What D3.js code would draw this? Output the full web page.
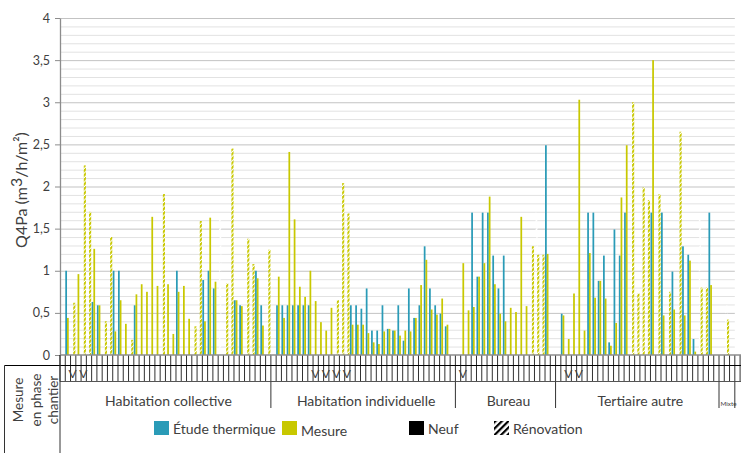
<!DOCTYPE html>
<html>
<head>
<meta charset="utf-8">
<script src="https://cdn.jsdelivr.net/npm/d3@7"></script>
<style>
    body { margin: 0; background: #fff; }
    svg { display: block; font-family: Lato, 'Open Sans', sans-serif; }
</style>
</head>
<body>
<svg id="chart" width="741" height="453"></svg>
<script>
// groupes de bâtiments (niveau 3 de l'axe)
const groups = ['Habitation collective', 'Habitation individuelle', 'Bureau', 'Tertiaire autre', 'Mixte'];
const groupSizes = [40, 35, 19, 31, 3];

// Q4Pa étude thermique, un bâtiment par catégorie
const etude = [
    null, 1.0, null, null, null, null, 0.63, 0.59, null, null,
    1.0, 1.0, null, null, 0.59, null, null, null, null, null,
    null, null, 1.0, null, null, null, null, 0.89, 1.0, 0.79,
    1.68, null, null, 0.65, 0.59, null, null, 1.0, 0.59, null,
    null, 0.59, 0.59, 0.59, 0.59, 0.59, 0.59, 0.59, null, null,
    null, null, null, null, null, 0.59, 0.59, 0.55, 0.79, 0.29,
    0.29, 0.59, 0.31, 0.29, 0.59, 0.17, 0.79, 0.44, 0.59, 1.29,
    0.79, 0.59, 0.49, 0.34, null,
    null, null, null, 1.69, 0.93, 1.69, 1.69, 1.18, 0.79, 1.18,
    null, null, null, null, null, 1.69, null, 2.49, null,
    null, 0.49, null, null, null, null, 1.69, 1.69, 0.88, 1.18,
    0.15, 1.49, 1.18, 1.69, null, null, null, null, 1.69, null,
    1.69, null, 0.99, null, 1.29, 1.19, 0.19, 1.68, null, 1.69,
    null,
    null, 0.59, null
];

// Q4Pa mesuré
const mesure = [
    null, 0.44, 0.62, 0.96, 2.25, 1.70, 1.26, 0.59, 0.40, 1.40,
    0.28, 0.65, 0.37, 0.18, 0.72, 0.84, 0.75, 1.64, 0.82, 1.91,
    0.84, 0.25, 0.75, 0.82, 0.43, 0.34, 1.59, 0.40, 1.63, 0.87,
    null, 0.85, 2.45, 0.65, 0.58, 1.38, 1.08, 0.91, 0.35, 1.25,
    null, 0.93, 0.44, 2.41, 1.61, 0.81, 0.69, 1.0, 0.64, 0.39,
    0.29, 0.56, 0.65, 2.04, 1.68, 0.36, 0.36, 0.36, 0.26, 0.15,
    0.13, 0.28, 0.31, 0.29, 0.23, 0.29, 0.28, 0.44, 0.83, 1.13,
    0.54, 0.48, 0.67, 0.36, null,
    null, 1.09, 0.53, 0.57, 0.93, 1.09, 1.88, 0.84, 0.49, 0.40,
    0.56, 0.51, 1.64, 0.58, 1.29, 1.19, 1.19, 1.20, null,
    null, 0.47, 0.19, 0.73, 3.03, 0.29, 1.21, 0.68, 0.88, 0.67,
    0.11, 0.38, 1.87, 2.49, 3.0, 0.73, 1.99, 1.84, 3.5, 1.91,
    0.47, 0.75, 0.54, 2.65, 0.47, 1.12, 0.04, 0.80, 0.80, 0.83,
    null,
    null, 0.42, null
];

// bâtiments en rénovation (les autres sont neufs)
const renovation = [2, 4, 5, 8, 9, 13, 19, 25, 26, 30, 31, 32, 35, 36, 39,
    52, 53, 54, 89, 90, 91, 108, 109, 110, 111, 113, 115, 117, 121, 122, 126];

// mesure en phase chantier ("V")
const chantier = [2, 4, 48, 50, 52, 54, 76, 96, 98];

const yTicks = [0, 0.5, 1, 1.5, 2, 2.5, 3, 3.5, 4];

const BLUE = '#2a9bb7';
const YELLOW = '#c8c800';

const W = 741;
const margin = { top: 18, left: 60, bottom: 98 };
const step = 5.272;
const N = etude.length;
const plotBottom = 453 - margin.bottom;

const svg = d3.select('#chart');
const defs = svg.append('defs');

const hatch = (id, bg, fg, period, stroke) => {
    const p = defs.append('pattern')
        .attr('id', id)
        .attr('patternUnits', 'userSpaceOnUse')
        .attr('width', period)
        .attr('height', period)
        .attr('patternTransform', 'rotate(45)');
    if (bg) p.append('rect').attr('width', period).attr('height', period).attr('fill', bg);
    p.append('rect').attr('width', stroke).attr('height', period).attr('fill', fg);
};

hatch('hatch-mesure', '#fff', YELLOW, 3.2, 2.2);
hatch('hatch-etude', null, '#fff', 3.2, 1.6);
hatch('hatch-legend', '#fff', '#000', 4.6, 2.2);

const x = d3.scaleBand()
    .domain(d3.range(N))
    .range([margin.left, margin.left + N * step])
    .padding(0);

const y = d3.scaleLinear()
    .domain([0, 4])
    .range([plotBottom, margin.top]);

const inner = d3.scaleBand()
    .domain(['etude', 'mesure'])
    .range([0, x.bandwidth() * 0.66]);

const renoShift = x.bandwidth() * 0.18;
const plotRight = x.range()[1];

// grille
const minor = d3.range(1, 41).map((d) => d / 10).filter((d) => Math.round(d * 10) % 5 !== 0);

svg.append('g')
    .attr('class', 'grid-minor')
    .attr('transform', `translate(${margin.left},0)`)
    .call(d3.axisLeft(y).tickValues(minor).tickSize(-(plotRight - margin.left)).tickFormat(''))
    .call((g) => g.select('.domain').remove())
    .call((g) => g.selectAll('line').attr('stroke', '#e2e2e2'));

svg.append('g')
    .attr('class', 'grid-major')
    .attr('transform', `translate(${margin.left},0)`)
    .call(d3.axisLeft(y).tickValues(yTicks.slice(1)).tickSize(-(plotRight - margin.left)).tickFormat(''))
    .call((g) => g.select('.domain').remove())
    .call((g) => g.selectAll('line').attr('stroke', '#c3c3c3'));

// barres
const renoSet = new Set(renovation);
const rows = etude.map((e, i) => ({ i, e, m: mesure[i], reno: renoSet.has(i) }));

const bars = svg.append('g').attr('class', 'bars');

const drawSeries = (key, series, fillNeuf, fillReno) => {
    bars.selectAll(`.bar-${series}`)
        .data(rows.filter((d) => d[key] != null))
        .enter()
        .append('rect')
        .attr('class', `bar-${series}`)
        .attr('x', (d) => x(d.i) + inner(series) + (d.reno ? renoShift : 0))
        .attr('y', (d) => y(d[key]))
        .attr('width', (d) => inner.bandwidth() + (d.reno ? 0.4 : 0))
        .attr('height', (d) => y(0) - y(d[key]))
        .attr('fill', (d) => (d.reno ? fillReno : fillNeuf));
};

drawSeries('e', 'etude', BLUE, 'url(#hatch-etude)');
drawSeries('m', 'mesure', YELLOW, 'url(#hatch-mesure)');

// axe Y
const fr = d3.formatLocale({ decimal: ',', thousands: '\u00a0', grouping: [3], currency: ['', ' €'] });

svg.append('g')
    .attr('class', 'axis axis-y')
    .attr('transform', `translate(${margin.left},0)`)
    .call(d3.axisLeft(y).tickValues(yTicks).tickFormat(fr.format('~g')).tickSize(5).tickSizeOuter(0).tickPadding(5))
    .call((g) => g.select('.domain').attr('stroke', '#8c8c8c').attr('stroke-width', 1.3))
    .call((g) => g.selectAll('.tick line').attr('stroke', '#8c8c8c'))
    .call((g) => g.selectAll('.tick text')
        .attr('fill', '#404040')
        .style('font-family', 'Lato, sans-serif')
        .style('font-size', '12.5px'));

const title = svg.append('text')
    .attr('transform', `translate(27,190) rotate(-90)`)
    .attr('text-anchor', 'middle')
    .attr('fill', '#404040')
    .style('font-size', '16px');
title.append('tspan').text('Q4Pa (m');
title.append('tspan').attr('dy', -5).text('3');
title.append('tspan').attr('dy', 5).text('/h/m²)');

// axe X à plusieurs niveaux
const axis = svg.append('g').attr('class', 'axis axis-x');
const rowA = plotBottom + 10.5;
const rowB = plotBottom + 26.5;
const rowC = plotBottom + 53;

const nLines = Math.floor((W - margin.left) / x.step()) + 1;
axis.selectAll('.comb')
    .data(d3.range(nLines))
    .enter()
    .append('line')
    .attr('class', 'comb')
    .attr('x1', (d) => margin.left + d * x.step())
    .attr('x2', (d) => margin.left + d * x.step())
    .attr('y1', plotBottom)
    .attr('y2', rowB)
    .attr('stroke', '#1a1a1a')
    .attr('stroke-width', 0.9);

axis.append('line')
    .attr('x1', margin.left).attr('x2', W)
    .attr('y1', plotBottom).attr('y2', plotBottom)
    .attr('stroke', '#8c8c8c').attr('stroke-width', 1.3);

axis.append('line')
    .attr('x1', 4.5).attr('x2', W)
    .attr('y1', rowA).attr('y2', rowA)
    .attr('stroke', '#000').attr('stroke-width', 1.2);

axis.append('line')
    .attr('x1', margin.left).attr('x2', W)
    .attr('y1', rowB).attr('y2', rowB)
    .attr('stroke', '#555').attr('stroke-width', 1);

axis.selectAll('.v')
    .data(chantier)
    .enter()
    .append('text')
    .attr('class', 'v')
    .attr('x', (d) => x(d) + x.bandwidth() / 2 - 0.5)
    .attr('y', rowB - 3.5)
    .attr('text-anchor', 'middle')
    .attr('fill', '#404040')
    .style('font-size', '12px')
    .text('V');

const starts = [0, ...d3.cumsum(groupSizes)];
const groupData = groups.map((name, g) => ({
    name,
    x0: x(starts[g]),
    x1: x(starts[g]) + groupSizes[g] * x.step()
}));

axis.selectAll('.sep')
    .data(groupData.map((d) => d.x1))
    .enter()
    .append('line')
    .attr('class', 'sep')
    .attr('x1', (d) => d).attr('x2', (d) => d)
    .attr('y1', rowB).attr('y2', rowC)
    .attr('stroke', '#333').attr('stroke-width', 1);

axis.selectAll('.group-label')
    .data(groupData)
    .enter()
    .append('text')
    .attr('class', 'group-label')
    .attr('y', plotBottom + 51)
    .attr('fill', '#404040')
    .style('font-size', '14px')
    .text((d) => d.name)
    .each(function (d) {
        const w = this.getComputedTextLength();
        const sel = d3.select(this);
        if (w > d.x1 - d.x0) {
            // libellé trop large : calé à gauche, police réduite pour tenir avant le bord
            const room = W - d.x0 - 6;
            sel.attr('x', d.x0 + 1.5).attr('text-anchor', 'start');
            if (w > room) sel.style('font-size', `${(14 * room / w).toFixed(1)}px`);
        } else {
            sel.attr('x', (d.x0 + d.x1) / 2 + 3).attr('text-anchor', 'middle');
        }
    });

// case "Mesure en phase chantier"
axis.append('line')
    .attr('x1', margin.left).attr('x2', margin.left)
    .attr('y1', plotBottom).attr('y2', 453)
    .attr('stroke', '#333').attr('stroke-width', 1);

axis.append('line')
    .attr('x1', 4.5).attr('x2', 4.5)
    .attr('y1', rowA).attr('y2', 453)
    .attr('stroke', '#333').attr('stroke-width', 1);

const boxLines = ['Mesure', 'en phase', 'chantier'];
axis.selectAll('.box-label')
    .data(boxLines)
    .enter()
    .append('text')
    .attr('class', 'box-label')
    .attr('transform', (d, i) => `translate(${23 + i * 17.5},400) rotate(-90)`)
    .attr('text-anchor', 'middle')
    .attr('fill', '#404040')
    .style('font-size', '13.5px')
    .text((d) => d);

// légende
const legendItems = [
    { label: 'Étude thermique', fill: BLUE, x: 154, dy: 0 },
    { label: 'Mesure', fill: YELLOW, x: 282, dy: 2 },
    { label: 'Neuf', fill: '#000', x: 409, dy: 0 },
    { label: 'Rénovation', fill: 'url(#hatch-legend)', x: 494, dy: 0 }
];

const legend = svg.append('g').attr('class', 'legend');
const item = legend.selectAll('g')
    .data(legendItems)
    .enter()
    .append('g')
    .attr('transform', (d) => `translate(${d.x},421)`);

item.append('rect')
    .attr('width', 15)
    .attr('height', 14)
    .attr('fill', (d) => d.fill);

item.append('text')
    .attr('x', 19)
    .attr('y', (d) => 13 + d.dy)
    .attr('fill', '#404040')
    .style('font-size', '14px')
    .text((d) => d.label);
</script>
</body>
</html>
